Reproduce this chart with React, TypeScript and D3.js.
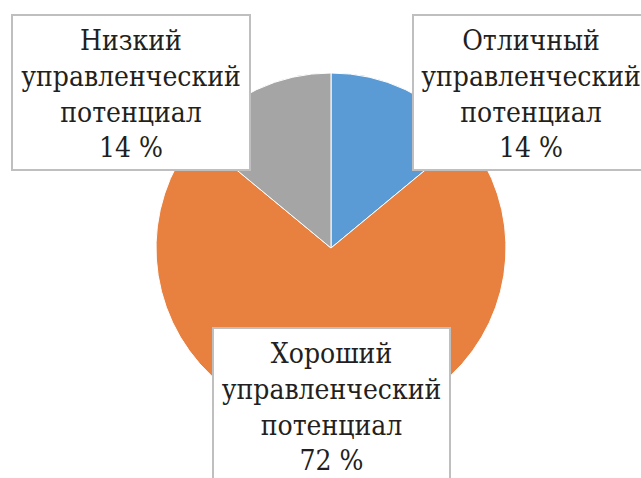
import React from "react";
import * as d3 from "d3";

const categories = ["Отличный управленческий потенциал", "Хороший управленческий потенциал", "Низкий управленческий потенциал"];
const values = [14, 72, 14];
const labelLines = [
  ["Отличный", "управленческий", "потенциал", "14 %"],
  ["Хороший", "управленческий", "потенциал", "72 %"],
  ["Низкий", "управленческий", "потенциал", "14 %"],
];
const colors = ["#5b9bd5", "#e8803f", "#a5a5a6"];

const W = 641, H = 478;
const cx = 331, cy = 248, R = 175;
const boxes = [
  { x: 413, y: 15, w: 236, h: 155 },
  { x: 213, y: 328, w: 237, h: 160 },
  { x: 12, y: 15, w: 238, h: 155 },
];

export default function App() {
  const pie = d3.pie<number>().sort(null).value((d) => d)(values);
  const arc = d3.arc<d3.PieArcDatum<number>>().innerRadius(0).outerRadius(R);
  return (
    <svg width={W} height={H} style={{ position: "absolute", left: 0, top: 0 }}>
      <rect width={W} height={H} fill="#fff" />
      <g transform={`translate(${cx},${cy})`}>
        {pie.map((p, i) => (
          <path key={categories[i]} d={arc(p) || ""} fill={colors[i]} stroke="#fff" strokeWidth={1} />
        ))}
      </g>
      {boxes.map((b, i) => (
        <g key={i}>
          <rect x={b.x} y={b.y} width={b.w} height={b.h} fill="#fff" stroke="#bfbfbf" strokeWidth={2} />
          {labelLines[i].map((t, j) => (
            <text key={j} x={b.x + b.w / 2} y={b.y + 35 + j * 35.8} textAnchor="middle"
              fontFamily="DejaVu Serif, serif" fontSize={28} fill="#231f20" style={{ fontStretch: "condensed" }}>
              {t}
            </text>
          ))}
        </g>
      ))}
    </svg>
  );
}
